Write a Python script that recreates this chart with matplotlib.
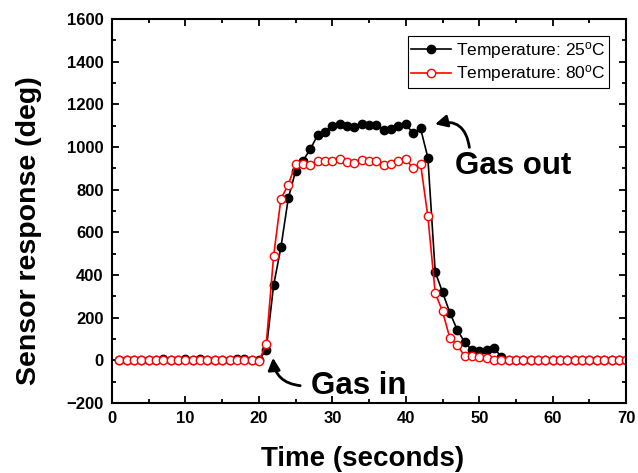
import numpy as np
import matplotlib
matplotlib.use('Agg')
from matplotlib import pyplot as plt
from matplotlib.ticker import MultipleLocator

# Sensor response over time at two temperatures
time_s = np.arange(1, 71)

resp_25C = [0, 0, 0, 0, 0, 0, 5, 0, 0, 8, 0, 6, 0, 0, 0, 0, 6, 5, 0, 0,
            50, 351, 530, 759, 888, 935, 990, 1055, 1070, 1100,
            1108, 1097, 1094, 1106, 1103, 1103, 1078, 1083, 1099, 1106,
            1064, 1088, 950, 415, 319, 223, 143, 86, 47, 42,
            47, 59, 15, 0, 0, 0, 0, 0, 0, 0,
            0, 0, 0, 0, 0, 0, 0, 0, 0, 0]

resp_80C = [0, 0, 0, 0, 0, 0, 0, 0, 0, 0, 0, 0, 0, 0, 0, 0, 0, 0, 0, -3,
            75, 488, 757, 823, 920, 920, 915, 932, 935, 935,
            943, 930, 927, 938, 935, 932, 915, 922, 935, 943,
            899, 922, 675, 316, 229, 104, 73, 19, 19, 14,
            10, 2, 0, 0, 0, 0, 0, 0, 0, 0,
            0, 0, 0, 0, 0, 0, 0, 0, 0, 0]

x_ticks = [0, 10, 20, 30, 40, 50, 60, 70]
y_ticks = [-200, 0, 200, 400, 600, 800, 1000, 1200, 1400, 1600]

plt.rcParams['font.family'] = ['Liberation Sans', 'DejaVu Sans']
plt.rcParams['mathtext.default'] = 'regular'

fig = plt.figure(figsize=(6.38, 4.73), dpi=100)
ax = fig.add_axes([0.1755, 0.148, 0.806, 0.812])

ax.plot(time_s, resp_25C, '-o', color='black', lw=1.2, markersize=6,
        markerfacecolor='black', markeredgecolor='black',
        label='Temperature: 25$^{o}$C')
ax.plot(time_s, resp_80C, '-o', color='red', lw=1.2, markersize=6,
        markerfacecolor='white', markeredgecolor='red', markeredgewidth=1.0,
        label='Temperature: 80$^{o}$C')

ax.set_xlim(0, 70)
ax.set_ylim(-200, 1600)
ax.set_xticks(x_ticks)
ax.set_yticks(y_ticks)
ax.xaxis.set_minor_locator(MultipleLocator(5))
ax.yaxis.set_minor_locator(MultipleLocator(100))
ax.tick_params(which='both', direction='in', top=True, right=True, width=1.3)
ax.tick_params(which='major', length=5, labelsize=12, pad=6)
ax.tick_params(which='minor', length=3)
for lbl in ax.get_xticklabels() + ax.get_yticklabels():
    lbl.set_fontweight('bold')
for sp in ax.spines.values():
    sp.set_linewidth(1.5)

ax.set_xlabel('Time (seconds)', fontsize=20, fontweight='bold')
ax.set_ylabel('Sensor response (deg)', fontsize=20.5, fontweight='bold')
ax.xaxis.set_label_coords(0.488, -0.112)
ax.yaxis.set_label_coords(-0.136, 0.45)

leg = ax.legend(loc='upper right', fontsize=12.5, frameon=True, fancybox=False,
                edgecolor='black', framealpha=1, borderaxespad=1.0,
                handlelength=2.3, handletextpad=0.25, borderpad=0.2,
                labelspacing=0.15)
leg.get_frame().set_linewidth(0.8)

# annotations marking gas switching
ax.annotate('', xy=(43.6, 1103), xytext=(48.7, 985),
            arrowprops=dict(arrowstyle='-|>', color='black', lw=2,
                            mutation_scale=18,
                            connectionstyle='arc3,rad=0.6'))
ax.text(54.6, 912, 'Gas out', fontsize=22.5, fontweight='bold',
        ha='center', va='center')

ax.annotate('', xy=(21.9, 25), xytext=(26.0, -120),
            arrowprops=dict(arrowstyle='-|>', color='black', lw=2,
                            mutation_scale=18,
                            connectionstyle='arc3,rad=-0.45'))
ax.text(33.6, -122, 'Gas in', fontsize=22.5, fontweight='bold',
        ha='center', va='center')

fig.savefig('out.png', dpi=100)
